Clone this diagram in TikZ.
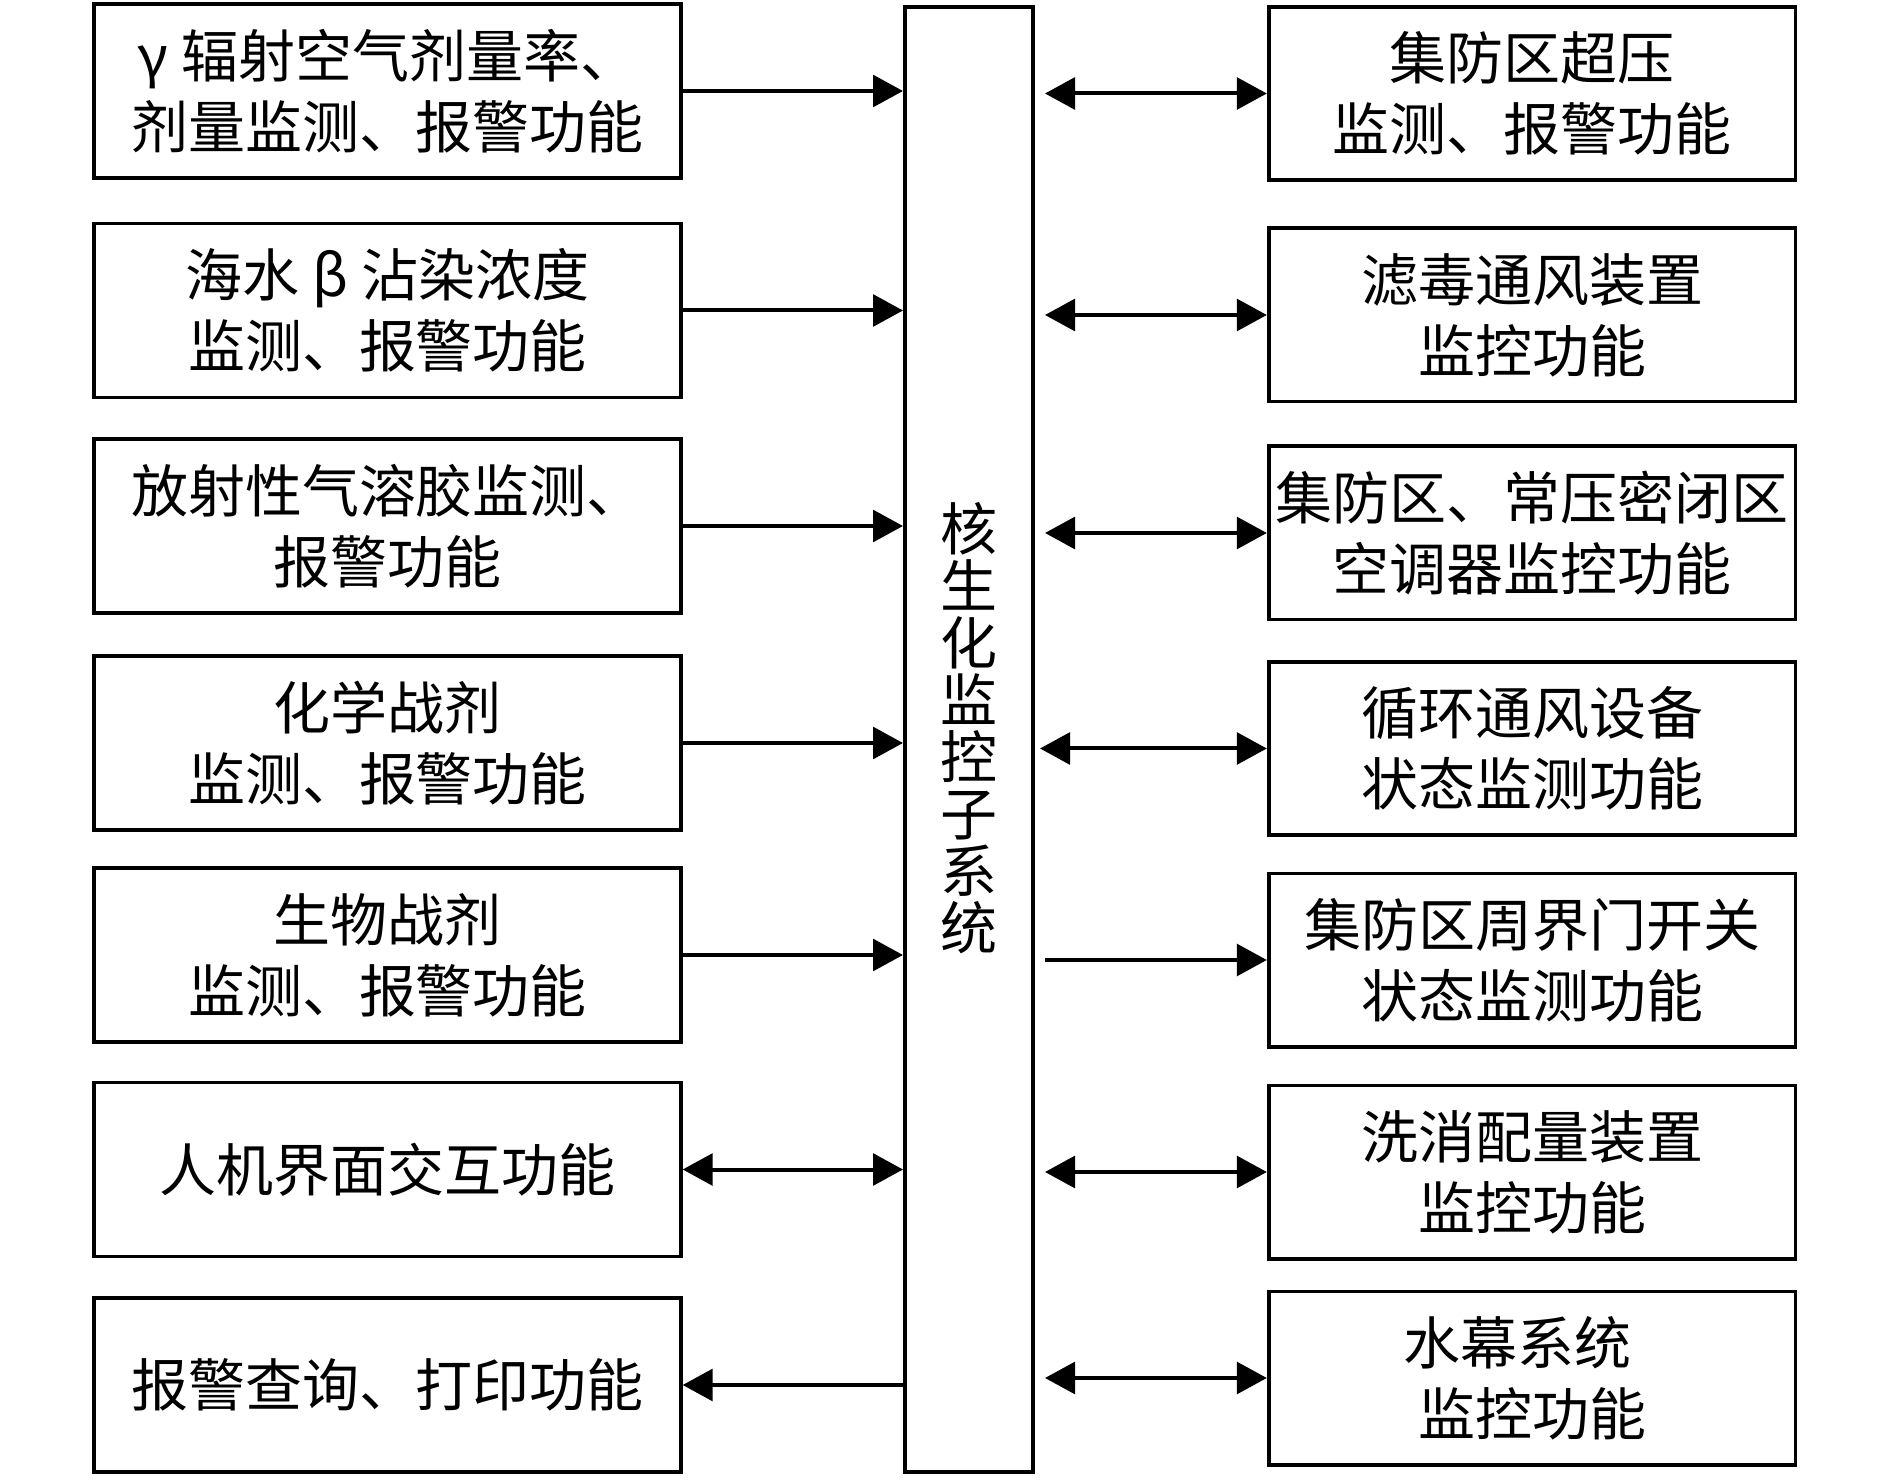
\documentclass[tikz,border=0pt]{standalone}
\usepackage{fontspec}
\setmainfont{Noto Sans CJK SC}
\usetikzlibrary{arrows.meta}

\begin{document}
\begin{tikzpicture}
	[x=0.3pt,y=-0.3pt,
	every node/.style={font=\fontsize{17.1}{21.3}\selectfont,align=center,inner sep=0pt},
	lbox/.style={draw,line width=1.1pt,minimum width=176pt,minimum height=52.2pt},
	rbox/.style={draw,line width=1.1pt,minimum width=158pt,minimum height=52pt},
	tip/.style={-{Triangle[length=9pt,width=9.5pt]}},
	link/.style={line width=1.2pt,tip},
	dlink/.style={line width=1.2pt,{Triangle[length=9pt,width=9.5pt]}-{Triangle[length=9pt,width=9.5pt]}}]
	\useasboundingbox (0,0) rectangle (1890,1483);
	% central subsystem
	\node[draw,line width=1.2pt,minimum width=38.4pt,minimum height=439.5pt] (bar) at (969,739.5) {};
	\node[font=\fontsize{17.1}{17.1}\selectfont] (barlabel) at (969,728) {核\\生\\化\\监\\控\\子\\系\\统};
	% left column
	\node[lbox] (L1) at (387.5,91) {γ 辐射空气剂量率、\\剂量监测、报警功能};
	\node[lbox] (L2) at (387.5,310.5) {海水 β 沾染浓度\\监测、报警功能};
	\node[lbox] (L3) at (387.5,526) {放射性气溶胶监测、\\报警功能};
	\node[lbox] (L4) at (387.5,743) {化学战剂\\监测、报警功能};
	\node[lbox] (L5) at (387.5,955) {生物战剂\\监测、报警功能};
	\node[lbox] (L6) at (387.5,1169.5) {人机界面交互功能};
	\node[lbox] (L7) at (387.5,1385) {报警查询、打印功能};
	% right column
	\node[rbox] (R1) at (1532,93.5) {集防区超压\\监测、报警功能};
	\node[rbox] (R2) at (1532,315) {滤毒通风装置\\监控功能};
	\node[rbox] (R3) at (1532,533) {集防区、常压密闭区\\空调器监控功能};
	\node[rbox] (R4) at (1532,748.5) {循环通风设备\\状态监测功能};
	\node[rbox] (R5) at (1532,960) {集防区周界门开关\\状态监测功能};
	\node[rbox] (R6) at (1532,1172) {洗消配量装置\\监控功能};
	\node[rbox] (R7) at (1532,1378) {水幕系统\hspace*{9pt}\\监控功能};
	% left connectors
	\draw[link] (L1.east) -- (L1.east -| bar.west);
	\draw[link] (L2.east) -- (L2.east -| bar.west);
	\draw[link] (L3.east) -- (L3.east -| bar.west);
	\draw[link] (L4.east) -- (L4.east -| bar.west);
	\draw[link] (L5.east) -- (L5.east -| bar.west);
	\draw[dlink] (L6.east) -- (L6.east -| bar.west);
	\draw[link] (L7.east -| bar.west) -- (L7.east);
	% right connectors
	\draw[dlink,shorten <=3pt] (R1.west -| bar.east) -- (R1.west);
	\draw[dlink,shorten <=3pt] (R2.west -| bar.east) -- (R2.west);
	\draw[dlink,shorten <=3pt] (R3.west -| bar.east) -- (R3.west);
	\draw[dlink,shorten <=1.5pt] (R4.west -| bar.east) -- (R4.west);
	\draw[link,shorten <=3pt] (R5.west -| bar.east) -- (R5.west);
	\draw[dlink,shorten <=3pt] (R6.west -| bar.east) -- (R6.west);
	\draw[dlink,shorten <=3pt] (R7.west -| bar.east) -- (R7.west);
\end{tikzpicture}
\end{document}
